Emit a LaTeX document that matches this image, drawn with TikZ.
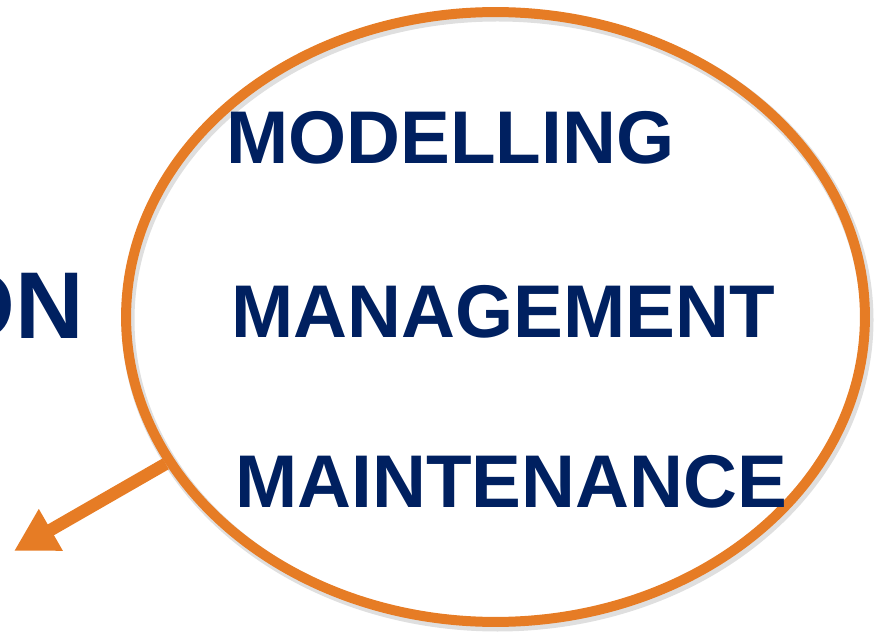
\documentclass[tikz,border=0pt]{standalone}
\usepackage{fontspec}
\setmainfont{Liberation Sans}
\usetikzlibrary{arrows.meta,shapes.geometric}
\definecolor{lensorange}{RGB}{230,124,37}
\definecolor{wordnavy}{RGB}{0,32,96}
\begin{document}
\begin{tikzpicture}[x=0.02cm, y=0.02cm,
	word/.style = {anchor = base west, inner sep = 0pt, text = wordnavy, font = \fontsize{42.5}{46}\selectfont\bfseries},
	rim/.style = {line width = 0.2cm, draw = lensorange}]
		\clip (0,0) rectangle (875,636);
		%
		\node[font = \fontsize{54}{58}\selectfont\bfseries, text = wordnavy, anchor = base east, inner sep = 0pt] (cut) at (84,297) {ON};
		%
		\draw[gray, opacity = 0.25, line width = 0.26cm] (497.5,316) ellipse (369.5 and 305);
		\node[rim, ellipse, inner sep = 0pt, minimum width = 14.78cm, minimum height = 12.2cm] (lens) at (495.5,319) {};
		%
		\node[word] (model) at (226,472) {MODELLING};
		\node[word] (manage) at (231,298) {MANAGEMENT};
		\node[word] (maint) at (235,129) {MAINTENANCE};
		%
		\coordinate (tip) at (14,85);
		\draw[lensorange, line width = 0.25cm, -{Triangle[length = 0.85cm, width = 0.9cm]}] (lens.204)--(tip);
		%
	\end{tikzpicture}
\end{document}
